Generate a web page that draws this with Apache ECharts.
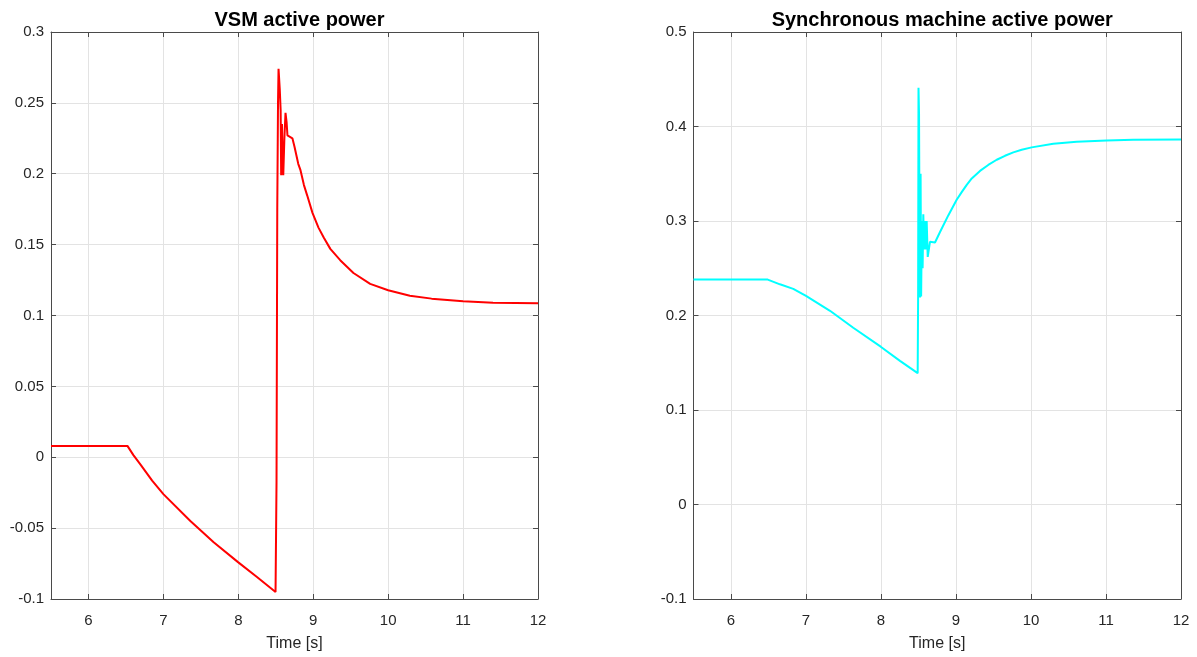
<!DOCTYPE html>
<html>
<head>
<meta charset="utf-8">
<script src="https://cdn.jsdelivr.net/npm/echarts@6/dist/echarts.min.js"></script>
<style>
html,body{margin:0;padding:0;background:#fff;}
#chart{width:1197px;height:657px;}
</style>
</head>
<body>
<div id="chart"></div>
<script>
// ---- Data ----
const vsmTime = [5.5, 6.52, 6.6, 6.7, 6.85, 7.0, 7.36, 7.671, 7.996, 8.249, 8.497,
  8.51, 8.52, 8.53, 8.537, 8.548, 8.553, 8.565, 8.572, 8.583, 8.592, 8.6, 8.615,
  8.63, 8.645, 8.656, 8.677, 8.722, 8.75, 8.80, 8.83, 8.876, 8.92, 8.99, 9.07,
  9.14, 9.228, 9.36, 9.537, 9.76, 10.0, 10.29, 10.58, 11.0, 11.4, 12.0];
const vsmPower = [0.008, 0.008, 0.0015, -0.0055, -0.0165, -0.026, -0.045, -0.060, -0.074, -0.0845, -0.095,
  -0.018, 0.176, 0.25, 0.274, 0.274, 0.26, 0.245, 0.199, 0.235, 0.205, 0.199, 0.225,
  0.243, 0.236, 0.227, 0.226, 0.225, 0.219, 0.207, 0.2025, 0.192, 0.1846, 0.1724, 0.162,
  0.155, 0.147, 0.139, 0.130, 0.1223, 0.1178, 0.1140, 0.1119, 0.110, 0.109, 0.1086];

const smTime = [5.5, 6.49, 6.653, 6.83, 7.0, 7.32, 7.63, 7.996, 8.253, 8.489,
  8.495, 8.5, 8.507, 8.512, 8.52, 8.528, 8.535, 8.545, 8.555, 8.564, 8.575, 8.587, 8.6, 8.609,
  8.623, 8.653, 8.676, 8.72, 8.787, 8.897, 9.009, 9.076, 9.143, 9.21, 9.32, 9.43, 9.543,
  9.653, 9.764, 9.876, 10.009, 10.297, 10.609, 11.009, 11.364, 12.0];
const smPower = [0.238, 0.238, 0.233, 0.2282, 0.2207, 0.205, 0.187, 0.167, 0.152, 0.139,
  0.222, 0.441, 0.414, 0.321, 0.219, 0.35, 0.22, 0.3, 0.25, 0.307, 0.27, 0.3, 0.27, 0.3,
  0.262, 0.278, 0.278, 0.2772, 0.2884, 0.3059, 0.3225, 0.3305, 0.3382, 0.345, 0.353, 0.3593, 0.3648,
  0.369, 0.3726, 0.3754, 0.3779, 0.3817, 0.3838, 0.3853, 0.3859, 0.3863];

const titles = ['VSM active power', 'Synchronous machine active power'];
const xLabel = 'Time [s]';
const xRange = [5.5, 12];
const xTicks = [6, 7, 8, 9, 10, 11, 12];
const yRanges = [[-0.1, 0.3, 0.05], [-0.1, 0.5, 0.1]];

// ---- Chart ----
const FONT = 'Liberation Sans, Arial, Helvetica, sans-serif';
const AX = '#4a4a4a';
const TXT = '#262626';
const GRIDC = '#e3e3e3';

const grids = [
  {left: 51, top: 32, width: 487, height: 571.5},
  {left: 693.5, top: 32, width: 487.5, height: 571.5}
];

function isInt(v) { return Math.abs(v - Math.round(v)) < 1e-9; }

function xAxes(gi) {
  const base = {
    type: 'value', gridIndex: gi, min: xRange[0], max: xRange[1],
    minInterval: 1, maxInterval: 1, splitNumber: 7,
    axisLine: {show: true, onZero: false, lineStyle: {color: AX, width: 1}},
    axisTick: {show: true, inside: true, length: 5, lineStyle: {color: AX}, customValues: xTicks}
  };
  return [
    Object.assign({}, base, {
      position: 'bottom',
      name: xLabel, nameLocation: 'middle', nameGap: 37,
      nameTextStyle: {color: TXT, fontSize: 16, fontFamily: FONT},
      axisLabel: {color: TXT, fontSize: 15, fontFamily: FONT, margin: 14,
        customValues: xTicks,
        formatter: v => (isInt(v) ? String(Math.round(v)) : '')},
      splitLine: {show: true, lineStyle: {color: GRIDC, width: 1}}
    }),
    Object.assign({}, base, {
      position: 'top', axisLabel: {show: false}, splitLine: {show: false}
    })
  ];
}
function yAxes(gi) {
  const r = yRanges[gi];
  const base = {
    type: 'value', gridIndex: gi, min: r[0], max: r[1], interval: r[2],
    axisLine: {show: true, onZero: false, lineStyle: {color: AX, width: 1}},
    axisTick: {show: true, inside: true, length: 5, lineStyle: {color: AX}}
  };
  return [
    Object.assign({}, base, {position: 'left',
      axisLabel: {color: TXT, fontSize: 15, fontFamily: FONT, margin: 7},
      splitLine: {show: true, lineStyle: {color: GRIDC, width: 1}}}),
    Object.assign({}, base, {position: 'right',
      axisLabel: {show: false}, splitLine: {show: false}})
  ];
}

const xAxisList = [].concat(xAxes(0), xAxes(1));
const yAxisList = [].concat(yAxes(0), yAxes(1));

function pairs(xs, ys) { return xs.map((x, i) => [x, ys[i]]); }

const option = {
  animation: false,
  backgroundColor: '#ffffff',
  title: [
    {text: titles[0], left: 51 + 487 / 2, top: 5, textAlign: 'center',
      textStyle: {fontFamily: FONT, fontWeight: 'bold', fontSize: 20, color: '#000'}},
    {text: titles[1], left: 693.5 + 487.5 / 2, top: 5, textAlign: 'center',
      textStyle: {fontFamily: FONT, fontWeight: 'bold', fontSize: 20, color: '#000'}}
  ],
  grid: grids,
  xAxis: xAxisList,
  yAxis: yAxisList,
  series: [
    {type: 'line', xAxisIndex: 0, yAxisIndex: 0, data: pairs(vsmTime, vsmPower),
      showSymbol: false, symbol: 'none', lineStyle: {color: '#ff0000', width: 2}, z: 5},
    {type: 'line', xAxisIndex: 2, yAxisIndex: 2, data: pairs(smTime, smPower),
      showSymbol: false, symbol: 'none', lineStyle: {color: '#00ffff', width: 2}, z: 5}
  ]
};

const chart = echarts.init(document.getElementById('chart'), null, {renderer: 'canvas'});
chart.setOption(option);
</script>
</body>
</html>
